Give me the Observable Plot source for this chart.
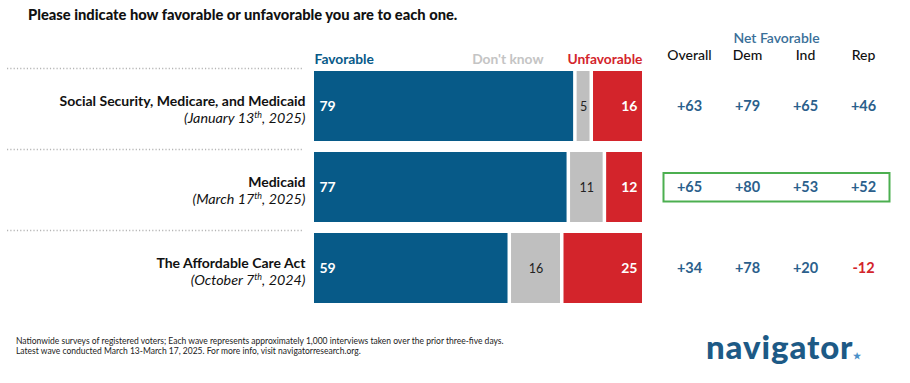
<!DOCTYPE html>
<html><head><meta charset="utf-8">
<script src="https://cdn.jsdelivr.net/npm/d3@7"></script>
<script src="https://cdn.jsdelivr.net/npm/@observablehq/plot@0.6"></script>
<style>
body{margin:0;background:#fff;font-family:Lato,"Open Sans",sans-serif;}
#wrap{position:relative;width:910px;height:383px;overflow:hidden;background:#fff;}
#title{position:absolute;left:28px;top:6px;font-size:14.7px;line-height:16px;font-weight:900;color:#111;white-space:nowrap;}
#bars{position:absolute;left:0;top:20px;}
#table{position:absolute;left:650px;top:20px;}
#foot{position:absolute;left:16px;top:337px;font-size:8.5px;line-height:9.6px;color:#222;white-space:nowrap;}
#logo{position:absolute;left:706px;top:328px;font-size:33px;line-height:36px;font-weight:900;letter-spacing:0.9px;color:#1d5a86;white-space:nowrap;}
#logo span{font-size:9px;color:#4a90c8;vertical-align:baseline;margin-left:0px;letter-spacing:0;}
</style></head><body>
<div id="wrap">
  <div id="title">Please indicate how favorable or unfavorable you are to each one.</div>
  <div id="bars"></div>
  <div id="table"></div>
  <div id="foot">Nationwide surveys of registered voters; Each wave represents approximately 1,000 interviews taken over the prior three-five days.<br>Latest wave conducted March 13-March 17, 2025. For more info, visit navigatorresearch.org.</div>
  <div id="logo">navigator<span>★</span></div>
</div>
<script>
// ---- data ----
const items = ["Social Security, Medicare, and Medicaid", "Medicaid", "The Affordable Care Act"];
const dates = ["(January 13th, 2025)", "(March 17th, 2025)", "(October 7th, 2024)"];
const responses = ["Favorable", "Don't know", "Unfavorable"];
const favorable = [79, 77, 59];
const dontKnow = [5, 11, 16];
const unfavorable = [16, 12, 25];
const groups = ["Overall", "Dem", "Ind", "Rep"];
const netOverall = [63, 65, 34];
const netDem = [79, 80, 78];
const netInd = [65, 53, 20];
const netRep = [46, 52, -12];
const highlighted = "Medicaid";

// ---- styles ----
const FONT = 'Lato, "Open Sans", sans-serif';
const BLUE = "#075a88", GRAY = "#bfbfbf", RED = "#d3242b";
const NETBLUE = "#2b5f8c", HEADBLUE = "#3a6f99", GREEN = "#4caf50";

// ---- derived tables ----
const seriesByResponse = [favorable, dontKnow, unfavorable];
const rows = [];
items.forEach((item, i) => {
  let s = 0;
  responses.forEach((r, k) => {
    const v = seriesByResponse[k][i];
    rows.push({item, response: r, value: v, x1: s, x2: s + v});
    s += v;
  });
});
const netSeries = [netOverall, netDem, netInd, netRep];
const netRows = [];
items.forEach((item, i) => groups.forEach((g, j) => netRows.push({item, group: g, value: netSeries[j][i]})));

const yScale = {type: "band", domain: items, axis: null, paddingInner: 0.13, paddingOuter: 0.065};

const separators = (index, scales, values, dimensions) => {
  const g = d3.create("svg:g");
  for (const it of items) {
    const y = scales.y(it) - 2.5;
    g.append("line").attr("x1", 7).attr("x2", dimensions.marginLeft - 12)
      .attr("y1", y).attr("y2", y).attr("stroke", "#b5b5b5")
      .attr("stroke-width", 1.4).attr("stroke-dasharray", "1.2,2.1");
  }
  return g.node();
};

const barsPlot = Plot.plot({
  width: 650, height: 300,
  marginLeft: 314, marginRight: 8, marginTop: 45, marginBottom: 10,
  style: {fontFamily: FONT, background: "transparent", overflow: "visible"},
  x: {domain: [0, 100], axis: null},
  y: yScale,
  color: {domain: responses, range: [BLUE, GRAY, RED]},
  marks: [
    separators,
    Plot.barX(rows.filter(d => d.response === "Favorable"), {x1: "x1", x2: "x2", y: "item", fill: "response"}),
    Plot.barX(rows.filter(d => d.response !== "Favorable"), {x1: "x1", x2: "x2", y: "item", fill: "response", insetLeft: 3.5}),
    Plot.text(rows.filter(d => d.response === "Favorable"), {x: "x1", y: "item", text: "value", textAnchor: "start", dx: 5, fill: "white", fontWeight: 700, fontSize: 14}),
    Plot.text(rows.filter(d => d.response === "Don't know"), {x: d => (d.x1 + d.x2) / 2, y: "item", text: "value", dx: 1.75, fill: "#222", fontSize: 12.5}),
    Plot.text(rows.filter(d => d.response === "Unfavorable"), {x: "x2", y: "item", text: "value", textAnchor: "end", dx: -5, fill: "white", fontWeight: 700, fontSize: 14}),
    // column headers
    Plot.text([responses[0]], {x: 0, text: d => d, frameAnchor: "top", lineAnchor: "bottom", textAnchor: "start", dy: -1.5, fill: BLUE, fontWeight: 700, fontSize: 13.8}),
    Plot.text([responses[1]], {x: 100, text: d => d, frameAnchor: "top", lineAnchor: "bottom", textAnchor: "end", dx: -99, dy: -1.5, fill: "#c4c4c4", fontWeight: 700, fontSize: 13.8}),
    Plot.text([responses[2]], {x: 100, text: d => d, frameAnchor: "top", lineAnchor: "bottom", textAnchor: "end", dy: -1.5, fill: RED, fontWeight: 700, fontSize: 13.8}),
    // row labels
    Plot.text(items, {y: d => d, text: d => d, frameAnchor: "left", textAnchor: "end", dx: -9, dy: -5, fill: "#111", fontWeight: 700, fontSize: 14}),
    Plot.text(items, {y: d => d, text: (d, i) => dates[i], frameAnchor: "left", textAnchor: "end", dx: -9, dy: 12, fill: "#111", fontStyle: "italic", fontSize: 14.3, className: "date-label"})
  ]
});
document.getElementById("bars").appendChild(barsPlot);

// superscript ordinal suffixes
d3.select(barsPlot).selectAll("g.date-label text").each(function() {
  const t = this.textContent;
  const m = t.match(/^(.*?\d+)(th|st|nd|rd)(.*)$/);
  if (!m) return;
  const el = d3.select(this);
  el.text(m[1]);
  el.append("tspan").attr("dy", -5).attr("font-size", "0.62em").text(m[2]);
  el.append("tspan").attr("dy", 5).text(m[3]);
});

const box = (index, scales, values, dimensions) => {
  const bwx = scales.x.bandwidth ? scales.x.bandwidth() : 0;
  const bwy = scales.y.bandwidth ? scales.y.bandwidth() : 0;
  const x0 = scales.x(groups[0]) + 3.5;
  const x1 = scales.x(groups[groups.length - 1]) + bwx - 2.5;
  const yc = scales.y(highlighted) + bwy / 2;
  return d3.create("svg:rect").attr("x", x0).attr("y", yc - 14).attr("width", x1 - x0).attr("height", 28.5)
    .attr("fill", "none").attr("stroke", GREEN).attr("stroke-width", 2).node();
};

const tablePlot = Plot.plot({
  width: 260, height: 300,
  marginLeft: 9, marginRight: 17, marginTop: 45, marginBottom: 10,
  style: {fontFamily: FONT, background: "transparent", overflow: "visible"},
  x: {type: "band", domain: groups, axis: null, padding: 0},
  y: yScale,
  marks: [
    box,
    Plot.text(["Net Favorable"], {text: d => d, frameAnchor: "top", lineAnchor: "bottom", dy: -23, fill: HEADBLUE, fontWeight: 600, fontSize: 14}),
    Plot.text(groups, {x: d => d, text: d => d, frameAnchor: "top", lineAnchor: "bottom", dy: -6, fill: "#111", fontWeight: 500, fontSize: 14}),
    Plot.text(netRows.filter(d => d.value >= 0), {x: "group", y: "item", text: d => "+" + d.value, fill: NETBLUE, fontWeight: 700, fontSize: 14.5}),
    Plot.text(netRows.filter(d => d.value < 0), {x: "group", y: "item", text: d => String(d.value), fill: RED, fontWeight: 700, fontSize: 14.5})
  ]
});
document.getElementById("table").appendChild(tablePlot);
</script>
</body></html>
